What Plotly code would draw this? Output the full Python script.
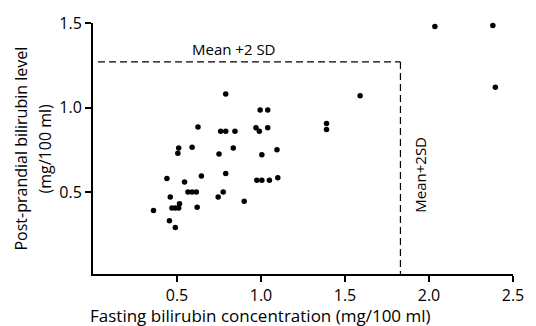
import plotly.graph_objects as go

fasting = [0.36, 0.44, 0.46, 0.455, 0.49, 0.47, 0.49, 0.51, 0.515, 0.51, 0.505, 0.59,
           0.545, 0.645, 0.565, 0.59, 0.615, 0.62, 0.625, 0.79, 0.76, 0.79, 0.845,
           0.75, 0.835, 0.79, 0.775, 0.745, 0.90, 0.97, 0.99, 1.04, 0.995, 1.04,
           1.005, 1.095, 0.975, 1.005, 1.05, 1.10, 1.39, 1.39, 1.59, 2.035, 2.355,
           2.38, 2.395]
postprandial = [0.39, 0.58, 0.47, 0.33, 0.29, 0.405, 0.405, 0.405, 0.43, 0.76, 0.73, 0.765,
                0.56, 0.595, 0.50, 0.50, 0.50, 0.41, 0.885, 1.08, 0.86, 0.86, 0.86,
                0.725, 0.76, 0.61, 0.50, 0.47, 0.445, 0.88, 0.86, 0.88, 0.985, 0.985,
                0.72, 0.75, 0.57, 0.57, 0.57, 0.585, 0.905, 0.87, 1.07, 1.48, 1.51,
                1.485, 1.12]

x_ticks = [0.5, 1.0, 1.5, 2.0, 2.5]
x_ticklabels = ["0.5", "1.0", "1.5", "2.0", "2.5"]
y_ticks = [0.5, 1.0, 1.5]
y_ticklabels = ["0.5", "1.0", "1.5"]

limit_x = 1.83
limit_y = 1.27

FONT = "Open Sans"

fig = go.Figure()
fig.add_trace(go.Scatter(
    x=fasting, y=postprandial, mode="markers",
    marker=dict(color="black", size=5.5, line=dict(width=0)),
    showlegend=False, cliponaxis=False,
))

fig.add_shape(type="line", xref="x", yref="y", x0=0.03, x1=limit_x, y0=limit_y, y1=limit_y,
              line=dict(color="black", width=1.2, dash="7px,4px"))
fig.add_shape(type="line", xref="x", yref="y", x0=limit_x, x1=limit_x, y0=limit_y, y1=0.015,
              line=dict(color="black", width=1.2, dash="7px,4px"))

fig.add_annotation(x=0.84, y=limit_y, yshift=1, text="Mean +2 SD", showarrow=False,
                   xanchor="center", yanchor="bottom",
                   font=dict(family=FONT, size=15, color="black"))
fig.add_annotation(x=1.95, y=0.60, text="Mean+2SD", showarrow=False, textangle=-90,
                   xanchor="center", yanchor="middle",
                   font=dict(family=FONT, size=15, color="black"))

# axis titles as annotations (paper pixel placement via shifts)
fig.add_annotation(xref="paper", yref="paper", x=0, y=0.5, xshift=-73, text="Post-prandial bilirubin level",
                   showarrow=False, textangle=-90, xanchor="center", yanchor="middle",
                   font=dict(family=FONT, size=16, color="black"))
fig.add_annotation(xref="paper", yref="paper", x=0, y=0.5, xshift=-49, text="(mg/100 ml)",
                   showarrow=False, textangle=-90, xanchor="center", yanchor="middle",
                   font=dict(family=FONT, size=16, color="black"))
fig.add_annotation(xref="paper", yref="paper", x=0.5, y=0, xshift=-43, yshift=-41,
                   text="Fasting bilirubin concentration (mg/100 ml)",
                   showarrow=False, xanchor="center", yanchor="middle",
                   font=dict(family=FONT, size=17, color="black"))

fig.update_layout(
    width=536, height=326,
    margin=dict(l=93, r=15, t=19, b=52),
    paper_bgcolor="white", plot_bgcolor="white",
    font=dict(family=FONT, size=14, color="black"),
    xaxis=dict(range=[0, 2.5], tickvals=x_ticks, ticktext=x_ticklabels,
               showgrid=False, zeroline=False, showline=True, linecolor="black", linewidth=2,
               ticks="outside", ticklen=6, tickwidth=2, tickcolor="black",
               tickfont=dict(size=16)),
    yaxis=dict(range=[0.015, 1.5], tickvals=y_ticks, ticktext=y_ticklabels,
               showgrid=False, zeroline=False, showline=True, linecolor="black", linewidth=2,
               ticks="outside", ticklen=6, tickwidth=2, tickcolor="black",
               tickfont=dict(size=16)),
)

fig.write_html("out.html")
